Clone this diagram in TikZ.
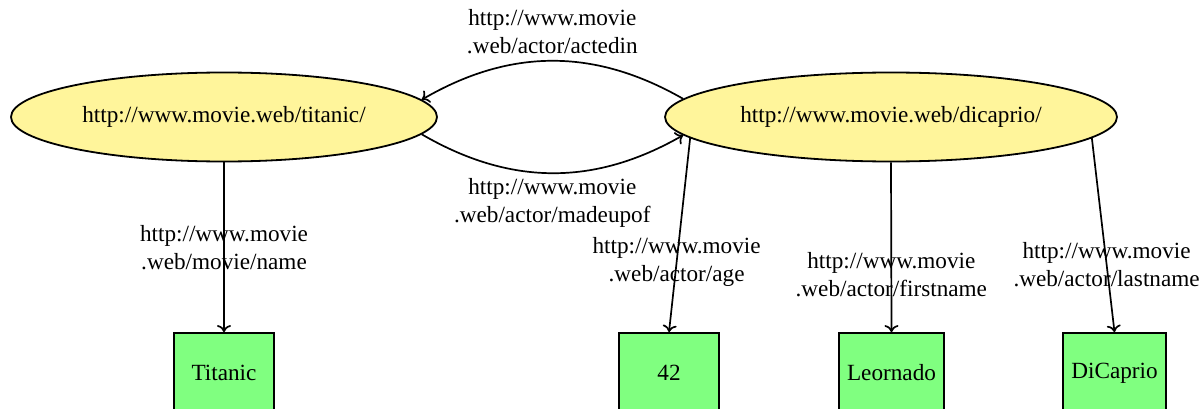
\documentclass[tikz,border=0pt]{standalone}
\usepackage{fontspec}
\setmainfont{Liberation Serif}
\usetikzlibrary{shapes.geometric,arrows.meta}
\definecolor{resnode}{RGB}{255,245,155}
\definecolor{litnode}{RGB}{128,255,128}
\tikzset{
  resource/.style={ellipse,draw,line width=0.9pt,fill=resnode,minimum height=44.5pt,inner sep=0pt},
  literal/.style={rectangle,draw,line width=0.9pt,fill=litnode,minimum width=50pt,minimum height=40pt,inner sep=4.2pt},
  rel/.style={line width=0.85pt,-{To[length=3.5pt,width=7pt]}},
  lbl/.style={align=center,inner sep=1pt,font=\fontsize{11.6}{14}\selectfont}
}
\begin{document}
\begin{tikzpicture}[x=0.5pt,y=0.5pt,font=\fontsize{11.6}{14}\selectfont]
\useasboundingbox (0,0) rectangle (1200,408);
\node[resource,minimum width=213pt] (titanic) at (224,291) {http://www.movie.web/titanic/};
\node[resource,minimum width=226pt] (dicaprio) at (891,291) {http://www.movie.web/dicaprio/};
\node[literal] (ltitanic) at (224,35) {Titanic};
\node[literal] (lage) at (669,35) {42};
\node[literal] (lfirst) at (891.5,35) {Leornado};
\node[literal] (llast) at (1114.5,35) {DiCaprio};
\draw[rel] (dicaprio.175) to[bend right=30] node[lbl,above,inner sep=3pt] {http://www.movie\\.web/actor/actedin} (titanic.5);
\draw[rel] (titanic.-5) to[bend right=30] node[lbl,below,inner sep=2pt] {http://www.movie\\.web/actor/madeupof} (dicaprio.185);
\draw[rel] (titanic.south) -- node[lbl,pos=0.5] {http://www.movie\\.web/movie/name} (ltitanic.north);
\draw[rel] (dicaprio.186) -- node[lbl,pos=0.64] {http://www.movie\\.web/actor/age} (lage.north);
\draw[rel] (dicaprio.south) -- node[lbl,pos=0.66] {http://www.movie\\.web/actor/firstname} (lfirst.north);
\draw[rel] (dicaprio.-6) -- node[lbl,pos=0.65] {http://www.movie\\.web/actor/lastname} (llast.north);
\end{tikzpicture}
\end{document}
